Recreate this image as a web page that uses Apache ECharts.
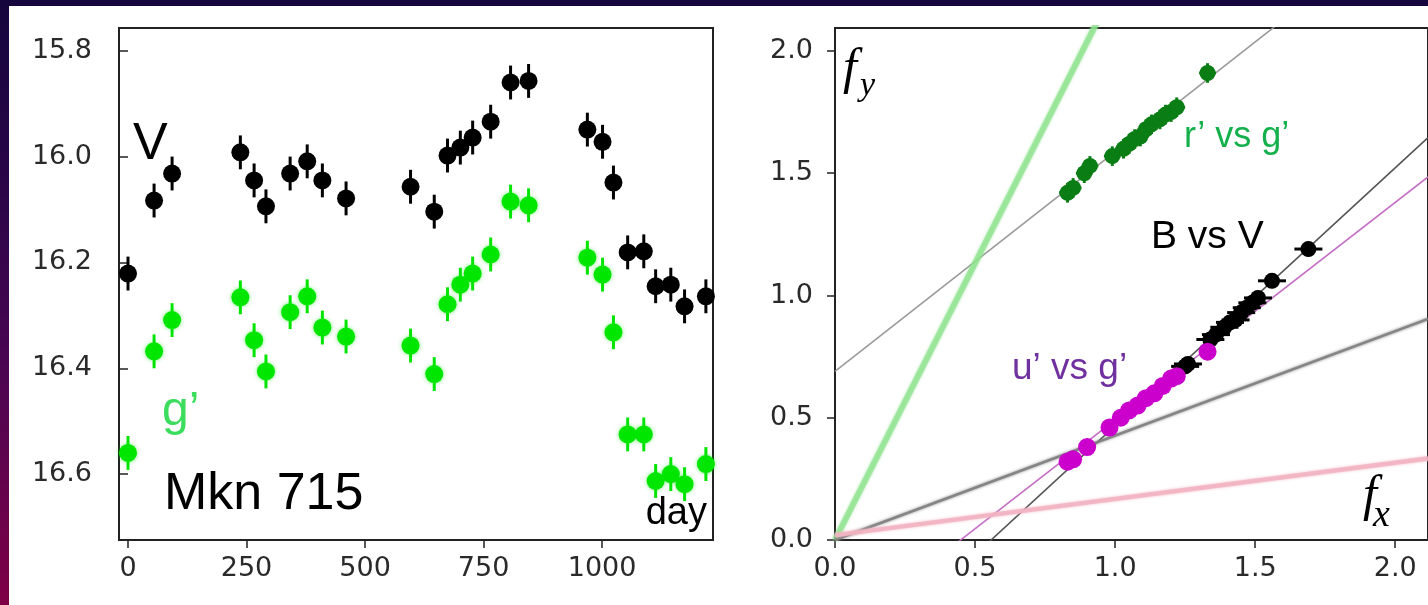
<!DOCTYPE html>
<html>
<head>
<meta charset="utf-8">
<script src="https://cdn.jsdelivr.net/npm/echarts@6/dist/echarts.min.js"></script>
<style>
  html, body { margin: 0; padding: 0; width: 1428px; height: 605px; overflow: hidden; background: #15063d; }
  #strip { position: absolute; left: 0; top: 0; width: 9px; height: 605px;
           background: linear-gradient(to bottom, #15063d 0%, #2a0548 30%, #4a0552 60%, #7e0046 100%); }
  #paper { position: absolute; left: 9px; top: 6px; width: 1419px; height: 599px; background: #fff; }
  #chart { position: absolute; left: 0; top: 0; width: 1428px; height: 605px; }
</style>
</head>
<body>
<div id="strip"></div>
<div id="paper"></div>
<div id="chart"></div>
<script>
// Mkn 715 light curves (magnitudes vs. day)
const days = [0, 55, 93, 237, 266, 291, 342, 378, 410, 460, 596, 646, 674, 701, 727, 765, 807, 845,
              969, 1001, 1024, 1054, 1088, 1113, 1145, 1174, 1219];
const magV = [16.221, 16.083, 16.032, 15.992, 16.045, 16.094, 16.032, 16.009, 16.045, 16.079,
              16.057, 16.104, 15.998, 15.983, 15.964, 15.934, 15.860, 15.857,
              15.949, 15.972, 16.049, 16.181, 16.179, 16.245, 16.242, 16.283, 16.264];
const magG = [16.560, 16.368, 16.309, 16.266, 16.347, 16.406, 16.294, 16.264, 16.323, 16.340,
              16.357, 16.411, 16.279, 16.242, 16.221, 16.185, 16.085, 16.092,
              16.191, 16.223, 16.332, 16.525, 16.525, 16.613, 16.600, 16.619, 16.581];
const magErr = 0.032;

// flux-flux diagrams
const rgX = [0.83, 0.85, 0.89, 0.91, 0.99, 1.03, 1.05, 1.07, 1.09, 1.11, 1.13, 1.16, 1.18, 1.20, 1.22, 1.33];
const rgY = [1.42, 1.44, 1.50, 1.53, 1.57, 1.60, 1.62, 1.64, 1.65, 1.68, 1.70, 1.72, 1.74, 1.75, 1.77, 1.91];
const bvX = [1.25, 1.26, 1.34, 1.36, 1.39, 1.41, 1.43, 1.45, 1.47, 1.49, 1.51, 1.56, 1.69];
const bvY = [0.71, 0.72, 0.82, 0.84, 0.87, 0.89, 0.90, 0.93, 0.95, 0.97, 0.99, 1.06, 1.19];
const ugX = [0.83, 0.85, 0.90, 0.98, 1.02, 1.05, 1.08, 1.11, 1.14, 1.17, 1.20, 1.22, 1.33];
const ugY = [0.32, 0.33, 0.38, 0.46, 0.50, 0.53, 0.55, 0.58, 0.60, 0.63, 0.66, 0.67, 0.77];
// flux errors [x, y] per diagram: r'-g', B-V, u'-g'
const fluxErr = [[0.03, 0.04], [0.05, 0.03], [0.03, 0.025]];

// straight lines y = slope * x + intercept
const lineSlopes     = [0.898, 2.264, 1.055, 0.890, 0.427, 0.148];
const lineIntercepts = [0.69, 0.0, -0.588, -0.399, 0.0, 0.02];

// tick values
const dayTicks = [0, 250, 500, 750, 1000];
const magTicks = [15.8, 16.0, 16.2, 16.4, 16.6];
const fluxTicks = [0, 0.5, 1.0, 1.5, 2.0];

const DAY_MIN = -19, DAY_MAX = 1234;
const MAG_MIN = 15.757, MAG_MAX = 16.7245;
const FX_MAX = 2.117, FY_MAX = 2.094;

const chart = echarts.init(document.getElementById('chart'), null, { renderer: 'canvas' });

const tickFont = { fontFamily: 'DejaVu Sans', fontSize: 27, color: '#2a2a2a' };
const ink = '#222';

function errPoints(color, radius, glow) {
  return function (params, api) {
    const x = api.value(0), y = api.value(1), ex = api.value(2), ey = api.value(3);
    const c = api.coord([x, y]);
    const children = [];
    if (ey > 0) {
      const a = api.coord([x, y - ey]), b = api.coord([x, y + ey]);
      children.push({ type: 'line', shape: { x1: c[0], y1: a[1], x2: c[0], y2: b[1] },
        style: { stroke: color, lineWidth: 3 } });
    }
    if (ex > 0) {
      const a = api.coord([x - ex, y]), b = api.coord([x + ex, y]);
      children.push({ type: 'line', shape: { x1: a[0], y1: c[1], x2: b[0], y2: c[1] },
        style: { stroke: color, lineWidth: 3 } });
    }
    children.push({ type: 'circle', shape: { cx: c[0], cy: c[1], r: radius },
      style: glow ? { fill: color, shadowBlur: 4, shadowColor: glow } : { fill: color } });
    return { type: 'group', children: children };
  };
}

function zipErr(xs, ys, ex, ey) { return xs.map((x, i) => [x, ys[i], ex, ey]); }

const fitStyles = [
  { color: '#9a9a9a', width: 1.6, opacity: 1 },
  { color: '#8fe28f', width: 6, opacity: 0.7 },
  { color: '#555555', width: 1.6, opacity: 1 },
  { color: '#c46fc4', width: 1.6, opacity: 1 },
  { color: '#7f7f7f', width: 2.6, opacity: 0.9 },
  { color: '#f2b3c2', width: 4.5, opacity: 0.85 }
];

const fitSeries = lineSlopes.map((m, i) => ({
  type: 'line', xAxisIndex: 1, yAxisIndex: 1, symbol: 'none', silent: true, clip: true,
  z: 1,
  data: [[0, lineIntercepts[i]], [FX_MAX, m * FX_MAX + lineIntercepts[i]]],
  lineStyle: { color: fitStyles[i].color, width: fitStyles[i].width, opacity: fitStyles[i].opacity,
               shadowBlur: i === 1 || i === 4 || i === 5 ? 3 : 0, shadowColor: fitStyles[i].color }
}));

const lab = (v) => v.toFixed(1);

const option = {
  animation: false,
  backgroundColor: 'transparent',
  grid: [
    { left: 119, top: 28, width: 594, height: 512, show: true, borderColor: ink, borderWidth: 2, backgroundColor: 'transparent' },
    { left: 835, top: 28, width: 600, height: 512, show: true, borderColor: ink, borderWidth: 2, backgroundColor: 'transparent' }
  ],
  xAxis: [
    { type: 'value', gridIndex: 0, min: DAY_MIN, max: DAY_MAX,
      axisLine: { show: false }, splitLine: { show: false },
      axisTick: { show: true, inside: false, length: 8, customValues: dayTicks, lineStyle: { color: ink, width: 1.5 } },
      axisLabel: Object.assign({ margin: 15, customValues: dayTicks, formatter: (v) => String(v) }, tickFont) },
    { type: 'value', gridIndex: 1, min: 0, max: FX_MAX,
      axisLine: { show: false }, splitLine: { show: false },
      axisTick: { show: true, inside: false, length: 8, customValues: fluxTicks, lineStyle: { color: ink, width: 1.5 } },
      axisLabel: Object.assign({ margin: 15, customValues: fluxTicks, formatter: lab }, tickFont) }
  ],
  yAxis: [
    { type: 'value', gridIndex: 0, min: MAG_MIN, max: MAG_MAX, inverse: true,
      axisLine: { show: false }, splitLine: { show: false },
      axisTick: { show: true, inside: false, length: 8, customValues: magTicks, lineStyle: { color: ink, width: 1.5 } },
      axisLabel: Object.assign({ margin: 27, customValues: magTicks, formatter: lab }, tickFont) },
    { type: 'value', gridIndex: 1, min: 0, max: FY_MAX,
      axisLine: { show: false }, splitLine: { show: false },
      axisTick: { show: true, inside: false, length: 8, customValues: fluxTicks, lineStyle: { color: ink, width: 1.5 } },
      axisLabel: Object.assign({ margin: 22, customValues: fluxTicks, formatter: lab }, tickFont) }
  ],
  series: [
    { type: 'custom', name: "g'", xAxisIndex: 0, yAxisIndex: 0, z: 3,
      renderItem: errPoints('#00e600', 9, 'rgba(0,230,0,0.55)'),
      data: days.map((d, i) => [d, magG[i], 0, magErr]) },
    { type: 'custom', name: 'V', xAxisIndex: 0, yAxisIndex: 0, z: 4,
      renderItem: errPoints('#000000', 9, null),
      data: days.map((d, i) => [d, magV[i], 0, magErr]) }
  ].concat(fitSeries).concat([
    { type: 'custom', name: "r' vs g'", xAxisIndex: 1, yAxisIndex: 1, z: 5,
      renderItem: errPoints('#0a7d14', 8, null),
      data: zipErr(rgX, rgY, fluxErr[0][0], fluxErr[0][1]) },
    { type: 'custom', name: 'B vs V', xAxisIndex: 1, yAxisIndex: 1, z: 5,
      renderItem: errPoints('#000000', 8, null),
      data: zipErr(bvX, bvY, fluxErr[1][0], fluxErr[1][1]) },
    { type: 'custom', name: "u' vs g'", xAxisIndex: 1, yAxisIndex: 1, z: 6,
      renderItem: errPoints('#cc00cc', 9, null),
      data: zipErr(ugX, ugY, fluxErr[2][0], fluxErr[2][1]) }
  ]),
  graphic: [
    { type: 'text', x: 133, y: 145, z: 10, style: { text: 'V', font: '52px "Liberation Sans"', fill: '#000', align: 'left', verticalAlign: 'middle' } },
    { type: 'text', x: 162, y: 412, z: 10, style: { text: 'g\u2019', font: '48px "Liberation Sans"', fill: '#3cdc5c', align: 'left', verticalAlign: 'middle' } },
    { type: 'text', x: 164, y: 495, z: 10, style: { text: 'Mkn 715', font: '52px "Liberation Sans"', fill: '#000', align: 'left', verticalAlign: 'middle' } },
    { type: 'text', x: 707, y: 514, z: 10, style: { text: 'day', font: '38px "Liberation Sans"', fill: '#000', align: 'right', verticalAlign: 'middle' } },
    { type: 'text', x: 843, y: 70, z: 10, style: { text: 'f', font: 'italic 50px "Liberation Serif"', fill: '#000', align: 'left', verticalAlign: 'middle' } },
    { type: 'text', x: 860, y: 86, z: 10, style: { text: 'y', font: 'italic 34px "Liberation Serif"', fill: '#000', align: 'left', verticalAlign: 'middle' } },
    { type: 'text', x: 1363, y: 497, z: 10, style: { text: 'f', font: 'italic 50px "Liberation Serif"', fill: '#000', align: 'left', verticalAlign: 'middle' } },
    { type: 'text', x: 1373, y: 516, z: 10, style: { text: 'x', font: 'italic 38px "Liberation Serif"', fill: '#000', align: 'left', verticalAlign: 'middle' } },
    { type: 'text', x: 1184, y: 137, z: 10, style: { text: 'r\u2019 vs g\u2019', font: '36px "Liberation Sans"', fill: '#14b04c', align: 'left', verticalAlign: 'middle' } },
    { type: 'text', x: 1151, y: 237, z: 10, style: { text: 'B vs V', font: '39px "Liberation Sans"', fill: '#000', align: 'left', verticalAlign: 'middle' } },
    { type: 'text', x: 1012, y: 369, z: 10, style: { text: 'u\u2019 vs g\u2019', font: '37px "Liberation Sans"', fill: '#7030a0', align: 'left', verticalAlign: 'middle' } }
  ]
};

chart.setOption(option);
</script>
</body>
</html>
